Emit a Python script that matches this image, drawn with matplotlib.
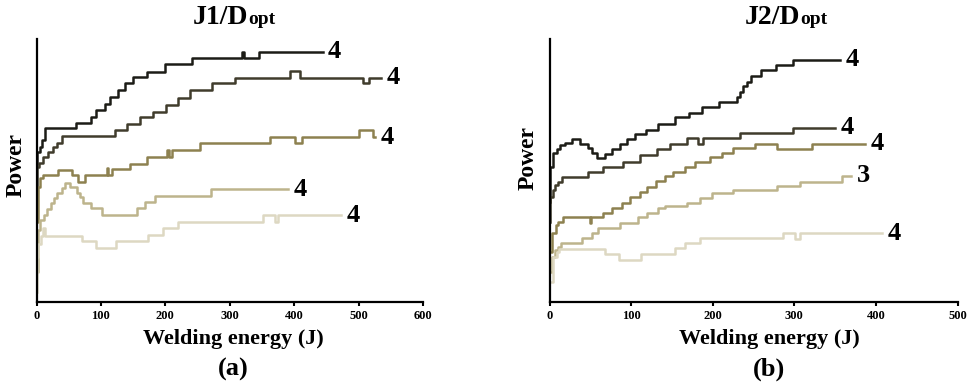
import matplotlib
matplotlib.use("Agg")
import matplotlib.pyplot as plt

# power curves (power is in arbitrary units, no y scale shown)
# panel (a): J1/Dopt
j1_energy_1 = [0, 0.5, 5, 8, 13, 61, 84, 93, 106, 114, 127, 137, 150, 171, 200, 242, 319, 322, 346, 444]
j1_power_1 = [138, 150, 155, 162, 174, 179, 185, 192, 198, 205, 212, 219, 225, 230, 238, 244, 250, 244, 250, 250]

j1_energy_2 = [0, 0.3, 4.3, 10.5, 18.3, 26, 31.3, 39, 121.7, 139.8, 160.5, 181, 200.8, 219.9, 238, 273, 307.8,
               393, 408.5, 506.7, 516, 535]
j1_power_2 = [100, 135, 139, 145, 150, 155, 159, 166, 172, 178, 185, 190, 197, 204, 212, 219, 224,
              231, 224, 219, 224, 224]

j1_energy_3 = [0, 2, 5.4, 9.6, 33.8, 54.6, 64.8, 75.2, 108.8, 110.5, 116.6, 145, 170.8, 201.9, 205, 209.6,
               253.5, 362, 400.8, 412.7, 500.5, 522, 526]
j1_power_3 = [80, 115, 124, 127, 132, 127, 120, 127, 134, 127, 133, 138, 145, 152, 145, 152,
              159, 165, 159, 165, 172, 165, 165]

j1_energy_4 = [0, 2, 5, 11.6, 15.8, 22, 27.1, 32.3, 39, 44.2, 52, 62.3, 67.4, 72.6, 84.5, 101, 155.3, 168.2,
               183.7, 271.6, 390]
j1_power_4 = [30, 72, 82, 87, 93, 99, 104, 109, 114, 119, 115, 109, 105, 99, 94, 87, 94, 100,
              106, 113, 113]

j1_energy_5 = [0, 1, 3, 6.5, 10.5, 12.5, 70, 92.2, 123.3, 173.3, 196.6, 219.8, 351.6, 369.8, 375, 473]
j1_power_5 = [10, 45, 58, 66, 74, 66, 61, 54, 61, 67, 74, 80, 87, 80, 87, 87]

j1_labels = ["4", "4", "4", "4", "4"]

# panel (b): J2/Dopt
j2_energy_1 = [0, 0.6, 4.7, 8.8, 12.9, 19, 27.2, 37.4, 47.6, 51.7, 57.8, 68, 76.2, 86.4, 95.3, 104.8, 118.3,
               133.3, 153.8, 171.3, 186.5, 208.1, 229.4, 233.5, 237.5, 241.6, 246.5, 258.8, 277.6, 298, 356]
j2_power_1 = [100, 135, 149, 153, 157, 159, 163, 158, 154, 149, 144, 148, 153, 158, 163, 168, 172,
              178, 185, 189, 195, 200, 205, 210, 216, 220, 226, 232, 237, 242, 242]

j2_energy_2 = [0, 0.6, 3.9, 6.7, 10.8, 14.9, 47.6, 66, 90.4, 110.9, 131.3, 147.7, 168.1, 182.4, 188.5, 233.5,
               298.8, 350]
j2_power_2 = [80, 105, 112, 117, 120, 125, 130, 135, 140, 147, 153, 158, 164, 158, 164, 169,
              174, 174]

j2_energy_3 = [0, 2.7, 8, 10.8, 16.2, 49.6, 51, 66, 76.2, 88.5, 98.7, 110.9, 119.9, 130.5, 141.5, 151, 166,
               178.3, 196.7, 211, 225.2, 251.8, 278.4, 321.3, 387]
j2_power_3 = [50, 69, 77, 80, 85, 79, 85, 89, 94, 99, 105, 110, 115, 121, 126, 130, 135,
              140, 145, 149, 154, 158, 153, 158, 158]

j2_energy_4 = [0, 2.7, 6.7, 10.8, 13.7, 39.5, 51.7, 59.8, 86.4, 108.8, 119, 133.3, 141.5, 168, 184.4, 198.8,
               225.2, 278.4, 307, 358, 370]
j2_power_4 = [30, 45, 52, 55, 59, 64, 69, 74, 79, 85, 89, 94, 96, 99, 104, 109,
              112, 116, 120, 126, 126]

j2_energy_5 = [0, 4.7, 8.8, 12, 68, 85.5, 111.8, 153.8, 166, 184.4, 285.8, 301, 307, 407]
j2_power_5 = [20, 45, 50, 53, 48, 42, 48, 54, 59, 64, 69, 63, 69, 69]

j2_labels = ["4", "4", "4", "3", "4"]

colors = ["#1c1c16", "#403c2c", "#8d8150", "#bdb48c", "#ddd8c2"]

plt.rcParams["font.family"] = ["Liberation Serif", "DejaVu Serif"]
plt.rcParams["font.weight"] = "bold"

fig = plt.figure(figsize=(9.68, 3.87), dpi=100)


def draw_panel(ax, energies, powers, labels, xmax, title_x, title_main, letter, xlabel_x):
    for i in range(len(energies)):
        ax.plot(energies[i], powers[i], drawstyle="steps-post", color=colors[i], lw=1.8)
        ax.annotate(labels[i], xy=(energies[i][-1], powers[i][-1]), xytext=(4, 0),
                    textcoords="offset points", ha="left", va="center",
                    fontsize=19, fontweight="bold")
    ax.set_xlim(0, xmax)
    ax.set_ylim(0, 263)
    ax.set_xticks(range(0, xmax + 1, 100))
    ax.set_yticks([])
    ax.spines["top"].set_visible(False)
    ax.spines["right"].set_visible(False)
    ax.spines["left"].set_linewidth(1.6)
    ax.spines["bottom"].set_linewidth(1.6)
    ax.tick_params(axis="x", direction="out", length=3, width=1.5, labelsize=9, pad=3)
    for lab in ax.get_xticklabels():
        lab.set_fontweight("bold")

    # title with smaller "opt"
    fig.text(title_x / 968, 1 - 24 / 387, title_main, ha="right", va="baseline",
             fontsize=20, fontweight="bold")
    fig.text(title_x / 968, 1 - 24 / 387, "opt", ha="left", va="baseline",
             fontsize=14, fontweight="bold")
    fig.text(xlabel_x / 968, 1 - 339 / 387, "Welding energy (J)", ha="center", va="center",
             fontsize=16, fontweight="bold")
    fig.text(xlabel_x / 968, 1 - 369 / 387, letter, ha="center", va="center",
             fontsize=19, fontweight="bold")


ax1 = fig.add_axes([36.5 / 968, 85 / 387, 386.5 / 968, 263 / 387])
draw_panel(ax1, [j1_energy_1, j1_energy_2, j1_energy_3, j1_energy_4, j1_energy_5],
           [j1_power_1, j1_power_2, j1_power_3, j1_power_4, j1_power_5],
           j1_labels, 600, 248.5, "J1/D", "(a)", 233)
fig.text(16 / 968, 1 - 165 / 387, "Power", rotation=90, ha="center", va="center",
         fontsize=17, fontweight="bold")

ax2 = fig.add_axes([549.5 / 968, 85 / 387, 408 / 968, 263 / 387])
draw_panel(ax2, [j2_energy_1, j2_energy_2, j2_energy_3, j2_energy_4, j2_energy_5],
           [j2_power_1, j2_power_2, j2_power_3, j2_power_4, j2_power_5],
           j2_labels, 500, 800, "J2/D", "(b)", 769)
fig.text(528 / 968, 1 - 158 / 387, "Power", rotation=90, ha="center", va="center",
         fontsize=17, fontweight="bold")

fig.savefig("out.png", dpi=100)
